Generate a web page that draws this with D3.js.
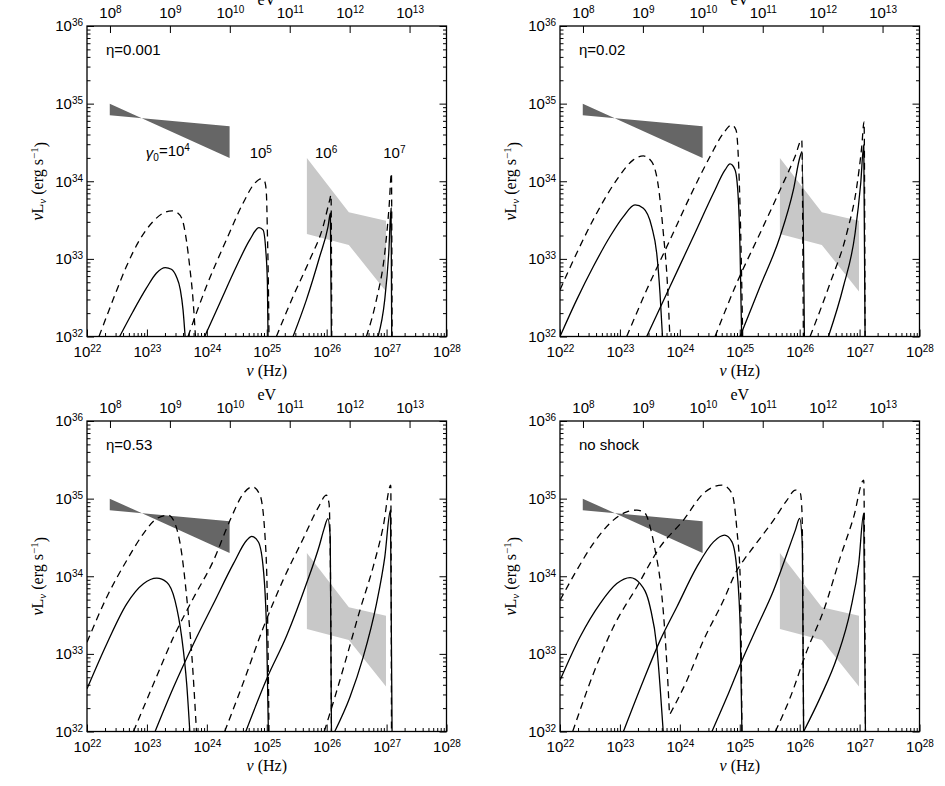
<!DOCTYPE html>
<html>
<head>
<meta charset="utf-8">
<script src="https://cdn.jsdelivr.net/npm/d3@7"></script>
<style>
	body { margin: 0; background: #fff; }
	svg text { fill: #000; }
</style>
</head>
<body>
<svg width="945" height="786"></svg>
<script>
// Axis decades (log10)
const nuDecades = [22, 23, 24, 25, 26, 27, 28];
const lumDecades = [32, 33, 34, 35, 36];
const evDecades = [8, 9, 10, 11, 12, 13];
const hzPerEv = 2.418e14;

const panelLabels = ["η=0.001", "η=0.02", "η=0.53", "no shock"];
// gamma_0 = 10^n labels in the first panel, placed at [log nu, log L]
const gammaExps = ["4", "5", "6", "7"];
const gammaLabelPos = [[23.35, 34.3], [24.9, 34.3], [25.99, 34.3], [27.13, 34.3]];

// shaded regions, points as [log nu, log L]
const darkBand = [[22.38, 35.0], [24.38, 34.3], [24.38, 34.71], [22.38, 34.85]];
const lightBand = [[25.67, 34.3], [26.37, 33.6], [26.99, 33.49], [26.99, 32.58], [26.37, 33.18], [25.67, 33.32]];

// eta = 0.001
const eta001Solid = [
	[[22.545, 32.0], [22.768, 32.322], [22.991, 32.622], [23.157, 32.815], [23.308, 32.888], [23.408, 32.867], [23.491, 32.773], [23.558, 32.601], [23.603, 32.343], [23.642, 31.95]],
	[[23.964, 32.0], [24.215, 32.429], [24.493, 32.901], [24.716, 33.245], [24.871, 33.403], [24.938, 33.373], [24.983, 33.116], [25.011, 32.687], [25.022, 31.95]],
	[[25.439, 32.0], [25.662, 32.472], [25.884, 33.03], [26.023, 33.416], [26.062, 33.588], [26.079, 31.95]],
	[[26.858, 32.0], [26.969, 32.472], [27.036, 33.073], [27.075, 33.652], [27.086, 31.95]]
];
const eta001Dashed = [
	[[22.2, 32.0], [22.434, 32.472], [22.657, 32.901], [22.879, 33.245], [23.102, 33.481], [23.269, 33.588], [23.419, 33.618], [23.519, 33.588], [23.592, 33.502], [23.658, 33.245], [23.714, 32.901], [23.77, 32.472], [23.814, 31.95]],
	[[23.686, 32.0], [23.992, 32.644], [24.326, 33.245], [24.604, 33.717], [24.799, 33.974], [24.91, 34.03], [24.966, 33.996], [24.994, 33.845], [25.011, 33.33], [25.027, 32.687], [25.038, 31.95]],
	[[25.161, 32.0], [25.439, 32.515], [25.717, 32.987], [25.94, 33.416], [26.051, 33.76], [26.073, 33.824], [26.085, 31.95]],
	[[26.663, 32.0], [26.83, 32.472], [26.969, 33.073], [27.042, 33.674], [27.081, 34.103], [27.092, 31.95]]
];

// eta = 0.02
const eta002Solid = [
	[[22.0, 32.0], [22.278, 32.472], [22.556, 32.901], [22.835, 33.288], [23.057, 33.545], [23.252, 33.695], [23.391, 33.652], [23.53, 33.416], [23.614, 33.073], [23.669, 32.558], [23.714, 31.95]],
	[[23.447, 32.0], [23.836, 32.644], [24.226, 33.288], [24.56, 33.845], [24.755, 34.146], [24.838, 34.223], [24.922, 34.146], [24.977, 33.76], [25.005, 33.116], [25.033, 31.95]],
	[[25.005, 32.0], [25.339, 32.644], [25.673, 33.288], [25.895, 33.888], [26.007, 34.318], [26.04, 34.382], [26.079, 31.95]],
	[[26.48, 32.0], [26.73, 32.644], [26.925, 33.33], [27.019, 33.974], [27.07, 34.468], [27.092, 31.95]]
];
const eta002Dashed = [
	[[22.0, 32.601], [22.278, 33.073], [22.612, 33.588], [22.946, 34.017], [23.224, 34.275], [23.391, 34.326], [23.53, 34.253], [23.642, 33.931], [23.725, 33.33], [23.792, 32.687], [23.836, 31.95]],
	[[23.113, 32.0], [23.447, 32.601], [23.836, 33.245], [24.17, 33.803], [24.504, 34.318], [24.727, 34.618], [24.866, 34.725], [24.938, 34.661], [24.983, 34.189], [25.016, 33.33], [25.05, 31.95]],
	[[24.588, 32.0], [24.949, 32.687], [25.339, 33.33], [25.673, 33.888], [25.923, 34.318], [26.035, 34.532], [26.062, 31.95]],
	[[26.174, 32.0], [26.508, 32.687], [26.786, 33.33], [26.953, 33.931], [27.036, 34.446], [27.075, 34.768], [27.092, 31.95]]
];

// eta = 0.53
const eta053Solid = [
	[[22.0, 32.55], [22.329, 33.128], [22.663, 33.645], [22.942, 33.903], [23.164, 33.975], [23.331, 33.924], [23.469, 33.687], [23.581, 33.213], [23.664, 32.611], [23.72, 31.95]],
	[[23.136, 32.0], [23.442, 32.567], [23.776, 33.128], [24.11, 33.645], [24.444, 34.162], [24.666, 34.463], [24.75, 34.514], [24.861, 34.441], [24.945, 34.075], [25.0, 33.213], [25.028, 31.95]],
	[[24.65, 32.0], [25.0, 32.68], [25.33, 33.23], [25.66, 33.9], [25.88, 34.4], [25.96, 34.62], [26.02, 34.743], [26.06, 34.5], [26.08, 31.95]],
	[[26.135, 32.0], [26.386, 32.438], [26.608, 32.955], [26.831, 33.645], [26.97, 34.247], [27.065, 34.85], [27.092, 31.95]]
];
const eta053Dashed = [
	[[22.0, 33.149], [22.329, 33.73], [22.663, 34.204], [22.942, 34.549], [23.164, 34.743], [23.358, 34.786], [23.469, 34.678], [23.581, 34.291], [23.664, 33.73], [23.748, 32.999], [23.831, 31.95]],
	[[22.775, 32.0], [23.109, 32.611], [23.442, 33.213], [23.776, 33.72], [24.11, 34.2], [24.387, 34.721], [24.611, 35.066], [24.761, 35.152], [24.888, 35.044], [24.972, 34.505], [25.011, 33.645], [25.038, 31.95]],
	[[24.298, 32.0], [24.604, 32.62], [24.938, 33.33], [25.272, 33.95], [25.606, 34.48], [25.856, 34.88], [25.996, 35.044], [26.04, 34.937], [26.063, 34.075], [26.08, 31.95]],
	[[25.96, 32.0], [26.135, 32.438], [26.331, 32.955], [26.553, 33.558], [26.775, 34.118], [26.942, 34.634], [27.07, 35.173], [27.082, 31.95]]
];

// no shock
const noShockSolid = [
	[[22.0, 32.658], [22.334, 33.217], [22.669, 33.648], [22.948, 33.906], [23.17, 33.983], [23.337, 33.906], [23.504, 33.604], [23.616, 33.088], [23.671, 32.572], [23.727, 31.95]],
	[[23.058, 32.0], [23.392, 32.658], [23.671, 33.174], [23.95, 33.604], [24.284, 34.12], [24.562, 34.443], [24.746, 34.529], [24.87, 34.443], [24.953, 34.077], [25.009, 33.303], [25.037, 31.95]],
	[[24.536, 32.0], [24.786, 32.443], [25.037, 32.916], [25.288, 33.346], [25.565, 33.819], [25.789, 34.293], [25.928, 34.594], [26.0, 34.745], [26.045, 34.4], [26.066, 31.95]],
	[[26.066, 32.0], [26.346, 32.443], [26.625, 32.959], [26.847, 33.561], [26.986, 34.164], [27.069, 34.809], [27.098, 31.95]]
];
const noShockDashed = [
	[[22.0, 33.69], [22.279, 34.077], [22.557, 34.422], [22.891, 34.723], [23.115, 34.83], [23.282, 34.852], [23.421, 34.809], [23.504, 34.636], [23.588, 34.335], [23.671, 33.948], [23.727, 33.519], [23.783, 32.874], [23.827, 32.228]],
	[[22.212, 32.0], [22.557, 32.745], [22.891, 33.346], [23.282, 33.862], [23.671, 34.378], [24.061, 34.723], [24.395, 35.067], [24.703, 35.174], [24.87, 35.067], [24.953, 34.594], [25.009, 33.948], [25.037, 31.95]],
	[[23.839, 32.228], [24.118, 32.658], [24.395, 33.174], [24.729, 33.69], [24.953, 34.077], [25.064, 34.206], [25.231, 34.378], [25.565, 34.723], [25.789, 34.981], [25.928, 35.11], [26.011, 35.067], [26.04, 34.809], [26.066, 31.95]],
	[[25.594, 32.0], [25.845, 32.443], [26.123, 33.045], [26.401, 33.561], [26.68, 34.249], [26.902, 34.765], [27.069, 35.239], [27.098, 31.95]]
];

// Layout
const W = 359.5, H = 310.5;
const panels = [
	{ solid: eta001Solid, dashed: eta001Dashed, label: panelLabels[0], left: 87, top: 26 },
	{ solid: eta002Solid, dashed: eta002Dashed, label: panelLabels[1], left: 560, top: 26 },
	{ solid: eta053Solid, dashed: eta053Dashed, label: panelLabels[2], left: 87, top: 421 },
	{ solid: noShockSolid, dashed: noShockDashed, label: panelLabels[3], left: 560, top: 421 }
];

const svg = d3.select("svg");
const numFont = "Liberation Sans";
const titleFont = "Liberation Serif";

// minor tick values 2..9 x 10^n
function minors(decades) {
	return d3.merge(decades.slice(0, -1).map((n) => d3.range(2, 10).map((m) => m * Math.pow(10, n))));
}

// turn axis tick text into 10 with superscript exponent
function powLabels(axisG) {
	axisG.selectAll(".tick text").each(function (d) {
		const t = d3.select(this);
		t.text(null)
			.attr("font-family", numFont)
			.attr("font-size", 15);
		t.append("tspan").text("10");
		t.append("tspan")
			.attr("dy", "-0.5em")
			.attr("font-size", 10)
			.text(Math.round(Math.log10(d)));
	});
}

function styleAxis(axisG) {
	axisG.select(".domain").remove();
	axisG.selectAll(".tick line").attr("stroke", "#000").attr("stroke-width", 1);
}

panels.forEach((p, i) => {
	const g = svg.append("g").attr("transform", `translate(${p.left},${p.top})`);

	const x = d3.scaleLog().domain([1e22, 1e28]).range([0, W]);
	const xEv = d3.scaleLog().domain([1e22 / hzPerEv, 1e28 / hzPerEv]).range([0, W]);
	const y = d3.scaleLog().domain([1e32, 1e36]).range([H, 0]);
	const X = (d) => x(Math.pow(10, d[0]));
	const Y = (d) => y(Math.pow(10, d[1]));

	g.append("clipPath")
		.attr("id", "clip" + i)
		.append("rect")
		.attr("width", W)
		.attr("height", H);
	const plot = g.append("g").attr("clip-path", `url(#clip${i})`);

	// shaded bands
	const poly = d3.line().x(X).y(Y);
	plot.append("path").attr("d", poly(darkBand) + "Z").attr("fill", "#666666");
	plot.append("path").attr("d", poly(lightBand) + "Z").attr("fill", "#c8c8c8");

	// spectra
	const line = d3.line().x(X).y(Y).curve(d3.curveMonotoneX);
	plot.selectAll(".dashed")
		.data(p.dashed)
		.join("path")
		.attr("class", "dashed")
		.attr("d", line)
		.attr("fill", "none")
		.attr("stroke", "#000")
		.attr("stroke-width", 1.3)
		.attr("stroke-dasharray", "7,5");
	plot.selectAll(".solid")
		.data(p.solid)
		.join("path")
		.attr("class", "solid")
		.attr("d", line)
		.attr("fill", "none")
		.attr("stroke", "#000")
		.attr("stroke-width", 1.3);

	// bottom axis
	const bottom = g.append("g")
		.attr("transform", `translate(0,${H})`)
		.call(d3.axisBottom(x).tickValues(nuDecades.map((n) => Math.pow(10, n))).tickSize(-7).tickPadding(10));
	styleAxis(bottom);
	powLabels(bottom);
	const bottomMinor = g.append("g")
		.attr("transform", `translate(0,${H})`)
		.call(d3.axisBottom(x).tickValues(minors(nuDecades)).tickSize(-3.5).tickFormat(""));
	styleAxis(bottomMinor);

	// top axis in eV
	const top = g.append("g")
		.call(d3.axisTop(xEv).tickValues(evDecades.map((n) => Math.pow(10, n))).tickSize(-7).tickPadding(8));
	styleAxis(top);
	powLabels(top);

	// left axis
	const left = g.append("g")
		.call(d3.axisLeft(y).tickValues(lumDecades.map((n) => Math.pow(10, n))).tickSize(-7).tickPadding(4));
	styleAxis(left);
	powLabels(left);
	const leftMinor = g.append("g")
		.call(d3.axisLeft(y).tickValues(minors(lumDecades)).tickSize(-3.5).tickFormat(""));
	styleAxis(leftMinor);

	// right axis, ticks only
	const right = g.append("g")
		.attr("transform", `translate(${W},0)`)
		.call(d3.axisRight(y).tickValues(lumDecades.map((n) => Math.pow(10, n))).tickSize(-7).tickFormat(""));
	styleAxis(right);
	const rightMinor = g.append("g")
		.attr("transform", `translate(${W},0)`)
		.call(d3.axisRight(y).tickValues(minors(lumDecades)).tickSize(-3.5).tickFormat(""));
	styleAxis(rightMinor);

	// frame
	g.append("rect")
		.attr("width", W)
		.attr("height", H)
		.attr("fill", "none")
		.attr("stroke", "#000")
		.attr("stroke-width", 1.3);

	// axis titles
	g.append("text")
		.attr("x", W / 2)
		.attr("y", -21)
		.attr("text-anchor", "middle")
		.attr("font-family", titleFont)
		.attr("font-size", 16)
		.text("eV");

	const xt = g.append("text")
		.attr("x", W / 2)
		.attr("y", H + 39)
		.attr("text-anchor", "middle")
		.attr("font-family", titleFont)
		.attr("font-size", 16);
	xt.append("tspan").attr("font-style", "italic").text("ν");
	xt.append("tspan").text(" (Hz)");

	const yt = g.append("text")
		.attr("transform", `translate(-44,${H / 2}) rotate(-90)`)
		.attr("text-anchor", "middle")
		.attr("font-family", titleFont)
		.attr("font-size", 16);
	yt.append("tspan").attr("font-style", "italic").text("ν");
	yt.append("tspan").text("L");
	yt.append("tspan").attr("font-style", "italic").attr("font-size", 11).attr("dy", "0.3em").text("ν");
	yt.append("tspan").attr("dy", "-0.2em").text(" (erg s");
	yt.append("tspan").attr("font-size", 11).attr("dy", "-0.5em").text("−1");
	yt.append("tspan").attr("dy", "0.5em").text(")");

	// panel label
	g.append("text")
		.attr("x", 19)
		.attr("y", 29)
		.attr("font-family", numFont)
		.attr("font-size", 15)
		.text(p.label);

	// gamma_0 labels
	if (i === 0) {
		gammaLabelPos.forEach((pos, k) => {
			const t = g.append("text")
				.attr("x", X(pos))
				.attr("y", Y(pos))
				.attr("text-anchor", "middle")
				.attr("font-family", numFont)
				.attr("font-size", 15);
			if (k === 0) {
				t.append("tspan").attr("font-style", "italic").text("γ");
				t.append("tspan").attr("font-size", 10).attr("dy", "0.3em").text("0");
				t.append("tspan").attr("dy", "-0.3em").text("=10");
			} else {
				t.append("tspan").text("10");
			}
			t.append("tspan").attr("font-size", 10).attr("dy", "-0.5em").text(gammaExps[k]);
		});
	}
});
</script>
</body>
</html>
